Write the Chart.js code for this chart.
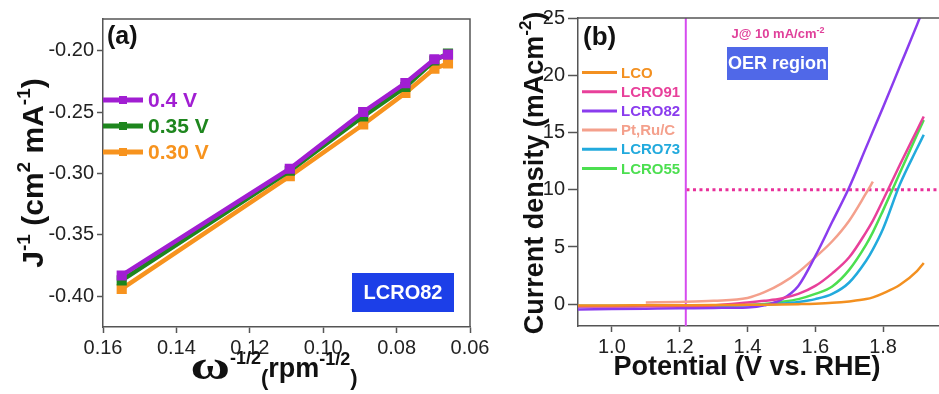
<!DOCTYPE html>
<html>
<head>
<meta charset="utf-8">
<script src="https://cdn.jsdelivr.net/npm/chart.js@4/dist/chart.umd.min.js"></script>
<style>
  html, body { margin: 0; padding: 0; background: #fff; }
  #wrap { position: relative; width: 939px; height: 394px; overflow: hidden; }
  #koutecky { position: absolute; left: 0; top: 0; }
  #lsv { position: absolute; left: 475px; top: 0; }
</style>
</head>
<body>
<div id="wrap">
  <canvas id="koutecky" width="500" height="394"></canvas>
  <canvas id="lsv" width="464" height="394"></canvas>
</div>
<script>
// Panel (a) data - K-L plot
const omegaInv = [0.1549, 0.1091, 0.0891, 0.0776, 0.0697, 0.0660];
const jInv04  = [-0.383, -0.296, -0.2498, -0.2262, -0.2068, -0.2030];
const jInv035 = [-0.387, -0.2977, -0.2533, -0.2294, -0.2078, -0.2021];
const jInv030 = [-0.394, -0.302, -0.2600, -0.2342, -0.2144, -0.2103];
const klTicksX = [0.16, 0.14, 0.12, 0.10, 0.08, 0.06];
const klTicksY = [-0.40, -0.35, -0.30, -0.25, -0.20];

// Panel (b) data - LSV curves
const potential = [0.9, 1.0, 1.1, 1.2, 1.3, 1.4, 1.45, 1.5, 1.55, 1.6, 1.65, 1.7, 1.75, 1.77, 1.8, 1.85, 1.9, 1.92];
const lco    = [-0.10, -0.10, -0.09, -0.08, -0.07, -0.05, -0.04, -0.02, 0.01, 0.05, 0.12, 0.25, 0.45, 0.60, 0.95, 1.70, 2.90, 3.60];
const lcro91 = [-0.20, -0.20, -0.18, -0.15, -0.10, 0.15, 0.30, 0.50, 0.90, 1.60, 2.70, 4.10, 6.30, 7.30, 9.10, 12.20, 15.20, 16.40];
const lcro82 = [-0.45, -0.42, -0.39, -0.36, -0.32, -0.28, -0.10, 0.40, 1.60, 4.20, 7.20, 10.20, 13.70, 15.10, 17.20, 20.80, 24.40, 25.90];
const ptRuC  = [null, null, 0.15, 0.20, 0.30, 0.55, 1.05, 1.80, 2.80, 4.10, 5.50, 7.30, 9.70, 10.70, null, null, null, null];
const lcro73 = [-0.15, -0.15, -0.14, -0.13, -0.12, -0.08, -0.04, 0.05, 0.20, 0.45, 0.90, 1.90, 3.80, 4.80, 6.60, 10.50, 13.60, 14.80];
const lcro55 = [-0.15, -0.15, -0.14, -0.13, -0.11, -0.06, 0.02, 0.20, 0.45, 0.90, 1.55, 3.00, 5.20, 6.30, 8.20, 11.50, 14.80, 16.10];
const onsetX = [1.218, 1.218];
const onsetY = [-1.9, 25];
const refX = [1.22, 1.965];
const refY = [10, 10];
const lsvTicksX = [1.0, 1.2, 1.4, 1.6, 1.8];
const lsvTicksY = [0, 5, 10, 15, 20, 25];

const SANS = '"Liberation Sans", Arial, sans-serif';
const AXIS = '#555';

function pts(xs, ys) {
    return xs.map((x, i) => ({ x: x, y: ys[i] }));
}

// draw a run of text pieces (for superscripts), centred on x
function richText(ctx, parts, x, y, rotate) {
    ctx.save();
    ctx.translate(x, y);
    if (rotate) ctx.rotate(-Math.PI / 2);
    let w = 0;
    parts.forEach(p => { ctx.font = p.font; w += ctx.measureText(p.text).width * (p.sx || 1); });
    let cx = -w / 2;
    ctx.textAlign = 'left';
    ctx.textBaseline = 'alphabetic';
    parts.forEach(p => {
        const sx = p.sx || 1;
        ctx.font = p.font;
        ctx.fillStyle = p.color || '#111';
        ctx.save();
        ctx.translate(cx, p.dy || 0);
        ctx.scale(sx, 1);
        ctx.fillText(p.text, 0, 0);
        ctx.restore();
        cx += ctx.measureText(p.text).width * sx;
    });
    ctx.restore();
}

function labelBox(ctx, x, y, w, h, bg, text, size) {
    ctx.save();
    ctx.fillStyle = bg;
    ctx.fillRect(x, y, w, h);
    ctx.fillStyle = '#fff';
    ctx.font = `bold ${size}px ${SANS}`;
    ctx.textAlign = 'center';
    ctx.textBaseline = 'middle';
    ctx.fillText(text, x + w / 2, y + h / 2 + 1);
    ctx.restore();
}

function axisOpts(min, max, tickVals, fmt, tickLen, reverse) {
    return {
        type: 'linear',
        min: min,
        max: max,
        reverse: !!reverse,
        afterBuildTicks: s => { s.ticks = tickVals.map(v => ({ value: v })); },
        ticks: { font: { family: SANS, size: 20 }, color: '#222', padding: 3, callback: fmt },
        grid: { drawOnChartArea: false, drawTicks: true, tickLength: tickLen, color: AXIS, tickWidth: 1.5 },
        border: { display: true, color: AXIS, width: 1.5 }
    };
}

// ---------- Panel (a) ----------
const klSeries = [
    { label: '0.4 V', data: jInv04, color: '#A11ED2' },
    { label: '0.35 V', data: jInv035, color: '#1E861E' },
    { label: '0.30 V', data: jInv030, color: '#F7931E' }
];

const klDecor = {
    id: 'klDecor',
    afterDraw(chart) {
        const ctx = chart.ctx;
        const a = chart.chartArea;
        ctx.save();
        ctx.strokeStyle = AXIS;
        ctx.lineWidth = 1.5;
        ctx.beginPath();
        ctx.moveTo(a.left, a.top);
        ctx.lineTo(a.right, a.top);
        ctx.lineTo(a.right, a.bottom);
        ctx.stroke();

        // legend
        klSeries.forEach((s, i) => {
            const y = 100 + i * 26;
            ctx.strokeStyle = s.color;
            ctx.lineWidth = 5;
            ctx.beginPath();
            ctx.moveTo(103, y);
            ctx.lineTo(143, y);
            ctx.stroke();
            ctx.fillStyle = s.color;
            ctx.fillRect(119, y - 4, 8, 8);
            ctx.font = `bold 21px ${SANS}`;
            ctx.textBaseline = 'middle';
            ctx.fillText(s.label, 148, y + 1);
        });

        ctx.fillStyle = '#111';
        ctx.font = `bold 25px ${SANS}`;
        ctx.textBaseline = 'alphabetic';
        ctx.fillText('(a)', 107, 44);
        ctx.restore();

        labelBox(ctx, 352, 273, 102, 39, '#1C3FE8', 'LCRO82', 20);

        const big = `bold 30px ${SANS}`, sup = `bold 19px ${SANS}`;
        richText(ctx, [
            { text: 'J', font: big }, { text: '-1', font: sup, dy: -13 },
            { text: ' (cm', font: big }, { text: '2', font: sup, dy: -13 },
            { text: ' mA', font: big }, { text: '-1', font: sup, dy: -13 },
            { text: ')', font: big }
        ], 43, 173, true);

        const mid = `bold 27px ${SANS}`, par = `bold 22px ${SANS}`, sup2 = `bold 18px ${SANS}`;
        richText(ctx, [
            { text: 'ω', font: 'bold 40px "Liberation Serif", serif', sx: 1.35 },
            { text: '-1/2', font: sup2, dy: -15 },
            { text: '(', font: par, dy: 6 },
            { text: 'rpm', font: mid, dy: -2 },
            { text: '-1/2', font: sup2, dy: -14 },
            { text: ')', font: par, dy: 6 }
        ], 274, 379, false);
    }
};

new Chart(document.getElementById('koutecky'), {
    type: 'line',
    data: {
        datasets: klSeries.map(s => ({
            label: s.label,
            data: pts(omegaInv, s.data),
            borderColor: s.color,
            backgroundColor: s.color,
            borderWidth: 4.5,
            pointStyle: 'rect',
            pointRadius: 4,
            pointBackgroundColor: s.color,
            pointBorderColor: s.color,
            tension: 0
        }))
    },
    options: {
        responsive: false,
        animation: false,
        layout: { padding: { top: 19, right: 30, left: 0, bottom: 0 } },
        plugins: { legend: { display: false }, tooltip: { enabled: false } },
        scales: {
            x: Object.assign(axisOpts(0.06, 0.16, klTicksX, v => v.toFixed(2), 6, true),
                { afterFit: s => { s.height = 67; } }),
            y: Object.assign(axisOpts(-0.425, -0.174, klTicksY, v => v.toFixed(2), 6),
                { afterFit: s => { s.width = 103; } })
        }
    },
    plugins: [klDecor]
});

// ---------- Panel (b) ----------
const lsvSeries = [
    { label: 'LCO', data: lco, color: '#F39020' },
    { label: 'LCRO91', data: lcro91, color: '#E8409A' },
    { label: 'LCRO82', data: lcro82, color: '#8A3CEE' },
    { label: 'Pt,Ru/C', data: ptRuC, color: '#F4A08C' },
    { label: 'LCRO73', data: lcro73, color: '#22AADD' },
    { label: 'LCRO55', data: lcro55, color: '#4CDF50' }
];

const lsvDecor = {
    id: 'lsvDecor',
    afterDraw(chart) {
        const ctx = chart.ctx;
        const a = chart.chartArea;
        ctx.save();
        ctx.strokeStyle = AXIS;
        ctx.lineWidth = 1.5;
        ctx.beginPath();
        ctx.moveTo(a.left, a.top);
        ctx.lineTo(a.right, a.top);
        ctx.stroke();

        lsvSeries.forEach((s, i) => {
            const y = 72.5 + i * 19.2;
            ctx.strokeStyle = s.color;
            ctx.lineWidth = 3;
            ctx.beginPath();
            ctx.moveTo(107, y);
            ctx.lineTo(142, y);
            ctx.stroke();
            ctx.fillStyle = s.color;
            ctx.font = `bold 15px ${SANS}`;
            ctx.textBaseline = 'middle';
            ctx.fillText(s.label, 146, y + 1);
        });

        ctx.fillStyle = '#111';
        ctx.font = `bold 26px ${SANS}`;
        ctx.textBaseline = 'alphabetic';
        ctx.fillText('(b)', 108, 45);
        ctx.restore();

        richText(ctx, [
            { text: 'J@ 10 mA/cm', font: `bold 13px ${SANS}`, color: '#E0409A' },
            { text: '-2', font: `bold 9px ${SANS}`, dy: -5, color: '#E0409A' }
        ], 303, 38, false);

        labelBox(ctx, 252, 47, 101, 33, '#5068E8', 'OER region', 18);

        const big = `bold 27px ${SANS}`;
        richText(ctx, [
            { text: 'Current density (mAcm', font: big },
            { text: '-2', font: `bold 17px ${SANS}`, dy: -12 },
            { text: ')', font: big }
        ], 68, 173, true);

        richText(ctx, [{ text: 'Potential (V vs. RHE)', font: `bold 27px ${SANS}` }], 272, 375, false);
    }
};

const lsvSets = lsvSeries.map(s => ({
    label: s.label,
    data: pts(potential, s.data),
    borderColor: s.color,
    borderWidth: 2.5,
    pointRadius: 0,
    cubicInterpolationMode: 'monotone'
}));
lsvSets.push({
    label: 'onset',
    data: pts(onsetX, onsetY),
    borderColor: '#D64BEF',
    borderWidth: 2,
    pointRadius: 0
});
lsvSets.push({
    label: '10 mA/cm2',
    data: pts(refX, refY),
    borderColor: '#E8309A',
    borderWidth: 3,
    borderDash: [3, 3.5],
    pointRadius: 0
});

new Chart(document.getElementById('lsv'), {
    type: 'line',
    data: { datasets: lsvSets },
    options: {
        responsive: false,
        animation: false,
        layout: { padding: { top: 18, right: 0, left: 0, bottom: 0 } },
        plugins: { legend: { display: false }, tooltip: { enabled: false } },
        scales: {
            x: Object.assign(axisOpts(0.9, 1.965, lsvTicksX, v => v.toFixed(1), 6),
                { afterFit: s => { s.height = 68; } }),
            y: Object.assign(axisOpts(-1.9, 25, lsvTicksY, v => String(v), 10),
                { afterFit: s => { s.width = 103; } })
        }
    },
    plugins: [lsvDecor]
});
</script>
</body>
</html>
